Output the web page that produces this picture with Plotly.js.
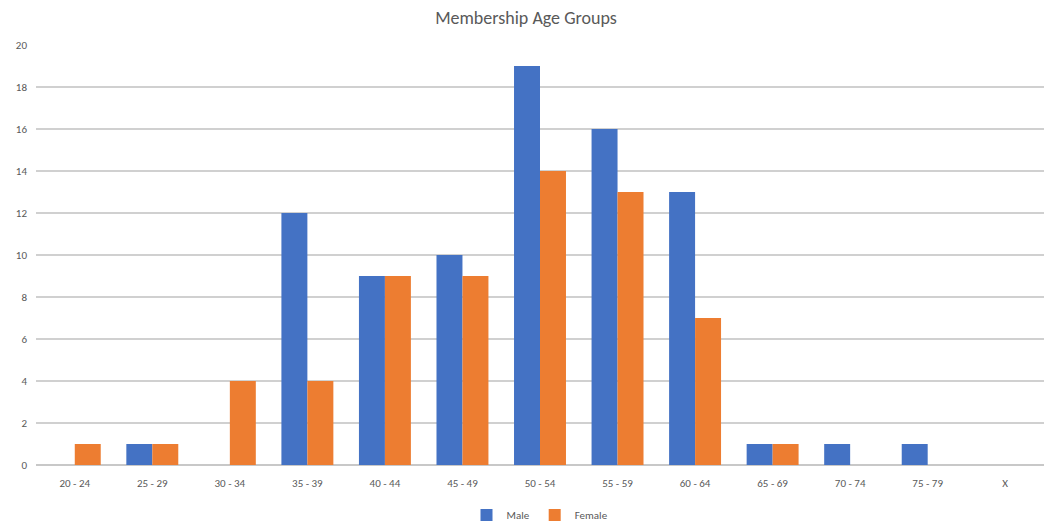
<!DOCTYPE html>
<html><head><meta charset="utf-8">
<script src="https://cdn.plot.ly/plotly-3.0.1.min.js"></script>
<style>html,body{margin:0;padding:0;background:#fff}#chart{width:1052px;height:524px}</style>
</head><body><div id="chart"></div>
<script>
const categories = ["20 - 24","25 - 29","30 - 34","35 - 39","40 - 44","45 - 49","50 - 54","55 - 59","60 - 64","65 - 69","70 - 74","75 - 79","X"];
const male = [0,1,0,12,9,10,19,16,13,1,1,1,0];
const female = [1,1,4,4,9,9,14,13,7,1,0,0,0];
const yTicks = [0,2,4,6,8,10,12,14,16,18,20];

const fontFam = "Carlito, Calibri, 'Open Sans', 'Liberation Sans', sans-serif";
const data = [
  {type:'bar', name:'Male', x:categories, y:male, marker:{color:'#4472C4'}},
  {type:'bar', name:'Female', x:categories, y:female, marker:{color:'#ED7D31'}}
];
const layout = {
  width:1052, height:524,
  margin:{l:36, r:8, t:45, b:59, autoexpand:false},
  paper_bgcolor:'#fff', plot_bgcolor:'#fff',
  font:{family:fontFam, color:'#595959', size:11},
  title:{text:'Membership Age Groups', x:0.5, xanchor:'center', y:0.966, yanchor:'middle', font:{size:18, color:'#595959', family:fontFam}},
  barmode:'group', bargap:0.33, bargroupgap:0,
  xaxis:{type:'category', automargin:false, showgrid:false, zeroline:false, showline:false, ticks:'', ticklabelstandoff:10, tickfont:{size:11, color:'#595959'}},
  yaxis:{range:[0,20], automargin:false, tickvals:yTicks, showgrid:true, gridcolor:'#d0d0d0', gridwidth:2, zeroline:true, zerolinecolor:'#c8c8c8', zerolinewidth:2, showline:false, ticks:'', ticklabelstandoff:8, tickfont:{size:11, color:'#595959'}},
  showlegend:true,
  legend:{orientation:'h', x:0.5, xanchor:'center', xref:'paper', yref:'container', y:0.017, yanchor:'middle', font:{size:11, color:'#595959'}, itemwidth:20, traceorder:'normal'}
};
Plotly.newPlot('chart', data, layout, {displayModeBar:false, staticPlot:true});
</script></body></html>
